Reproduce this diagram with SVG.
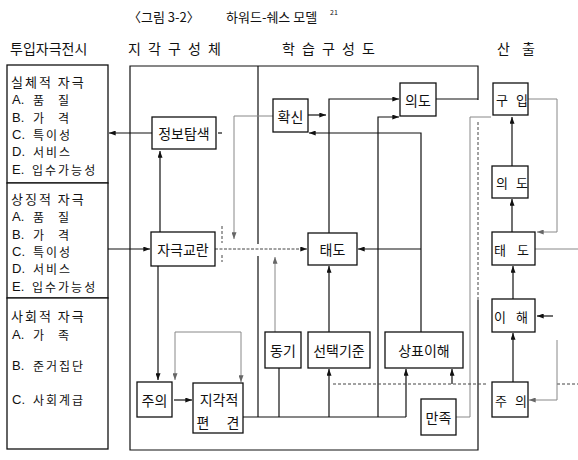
<svg xmlns="http://www.w3.org/2000/svg" width="578" height="460" viewBox="0 0 578 460">
<defs>
<marker id="ah" viewBox="0 0 8 6" refX="8" refY="3" markerWidth="7" markerHeight="5" orient="auto" markerUnits="userSpaceOnUse"><path d="M0,0 L8,3 L0,6 z" fill="#111"/></marker>
<marker id="ahg" viewBox="0 0 8 6" refX="8" refY="3" markerWidth="7" markerHeight="5" orient="auto" markerUnits="userSpaceOnUse"><path d="M0,0 L8,3 L0,6 z" fill="#666"/></marker>
</defs>
<style>
text{font-family:"Noto Sans CJK KR","Noto Sans",sans-serif;font-size:14px;fill:#111;dominant-baseline:central}
.t{font-size:13px}
.h{font-size:14px}
.it{font-size:12px;letter-spacing:2px}
.lat{font-family:"Liberation Sans",Arial,sans-serif;font-size:13px;letter-spacing:0}
.hd{font-size:13px;letter-spacing:2px}
.c{text-anchor:middle}
.s{font-size:13px;text-anchor:middle}
.box{fill:#fff;stroke:#111;stroke-width:1.3}
.ln{fill:none;stroke:#111;stroke-width:1.2}
.lna{fill:none;stroke:#111;stroke-width:1.2;marker-end:url(#ah)}
.gl{fill:none;stroke:#888;stroke-width:1}
.gla{fill:none;stroke:#888;stroke-width:1;marker-end:url(#ahg)}
.dl{fill:none;stroke:#444;stroke-width:1;stroke-dasharray:3 2}
.dla{fill:none;stroke:#444;stroke-width:1;stroke-dasharray:3 1.5;marker-end:url(#ah)}
</style>
<rect width="578" height="460" fill="#fff"/>
<g id="title">
<text class="t" x="128" y="16">〈그림 3-2〉</text>
<text class="t" x="226" y="16">하워드-쉐스 모델</text>
<text x="330" y="12" style="font-size:7px">21</text>
</g>
<g id="headers">
<text class="h" x="10" y="48">투입자극전시</text>
<text class="h" x="128 148 168 188 208" y="48">지각구성체</text>
<text class="h" x="282 302 322 342 362" y="48">학습구성도</text>
<text class="h" x="497 522" y="48">산출</text>
</g>
<g id="input-physical">
<rect class="box" x="7" y="65" width="101" height="118"/>
<text class="it"><tspan class="hd" x="11" y="81">실체적 자극</tspan><tspan class="lat" x="12" y="99.1">A.</tspan><tspan x="33" y="99.1">품</tspan><tspan x="58" y="99.1">질</tspan><tspan class="lat" x="12" y="116.5">B.</tspan><tspan x="33" y="116.5">가</tspan><tspan x="58" y="116.5">격</tspan><tspan class="lat" x="12" y="133.9">C.</tspan><tspan x="33" y="133.9">특이성</tspan><tspan class="lat" x="12" y="151.3">D.</tspan><tspan x="33" y="151.3">서비스</tspan><tspan class="lat" x="12" y="168.7">E.</tspan><tspan x="32" y="168.7">입수가능성</tspan></text>
</g>
<g id="input-symbolic">
<rect class="box" x="7" y="183" width="101" height="115"/>
<text class="it"><tspan class="hd" x="11" y="198">상징적 자극</tspan><tspan class="lat" x="12" y="216.1">A.</tspan><tspan x="33" y="216.1">품</tspan><tspan x="58" y="216.1">질</tspan><tspan class="lat" x="12" y="233.5">B.</tspan><tspan x="33" y="233.5">가</tspan><tspan x="58" y="233.5">격</tspan><tspan class="lat" x="12" y="250.9">C.</tspan><tspan x="33" y="250.9">특이성</tspan><tspan class="lat" x="12" y="268.3">D.</tspan><tspan x="33" y="268.3">서비스</tspan><tspan class="lat" x="12" y="285.7">E.</tspan><tspan x="32" y="285.7">입수가능성</tspan></text>
</g>
<g id="input-social">
<rect class="box" x="7" y="298" width="101" height="151"/>
<text class="it"><tspan class="hd" x="11" y="315">사회적 자극</tspan><tspan class="lat" x="12" y="333.5">A.</tspan><tspan x="33" y="333.5">가</tspan><tspan x="58" y="333.5">족</tspan><tspan class="lat" x="12" y="365">B.</tspan><tspan x="33" y="365">준거집단</tspan><tspan class="lat" x="12" y="399">C.</tspan><tspan x="33" y="399">사회계급</tspan></text>
</g>
<g id="frame">
<path class="ln" d="M478,100 V66 H130 V450 H478 V300"/>
<path class="dl" d="M478,122 V300"/>
<path class="ln" d="M258,66 V244 M258,256 V417"/>
</g>
<g id="connectors">
<path class="lna" d="M152,133 H109"/>
<path class="ln" d="M218,133 H222"/>
<path class="lna" d="M160,232 V151"/>
<path class="lna" d="M108,249 H150"/>
<path class="dla" d="M215,249 H307"/>
<path class="dl" d="M222,226 V243 M222,255 V262"/>
<path class="gla" d="M273,116 H234 V239"/>
<path class="lna" d="M158,266 V380"/>
<path class="gla" d="M208,332 H175 V380"/>
<path class="gla" d="M208,332 H241 V382"/>
<path class="lna" d="M174,400 H192"/>
<path class="ln" d="M243,417 H406"/>
<path class="ln" d="M279,417 V368"/>
<path class="lna" d="M329,417 V369"/>
<path class="lna" d="M378,417 V117 H399"/>
<path class="lna" d="M406,417 V369"/>
<path class="gla" d="M275,332 V257"/>
<path class="lna" d="M329,332 V266"/>
<path class="lna" d="M329,233 V99 H399"/>
<path class="lna" d="M308,115 H326"/>
<path class="lna" d="M421,332 V133 H309"/>
<path class="lna" d="M421,249 H358"/>
<path class="ln" d="M436,99 H478"/>
<path class="gl" d="M456,417 H470 V117 H491"/>
<path class="dl" d="M333,384 H486 M557,384 H578"/>
<path class="lna" d="M452,384 V369"/>
<path class="gla" d="M528,99 H557 V232 H537"/>
<path class="gl" d="M535,249 H578"/>
<path class="lna" d="M512,166 V117"/>
<path class="lna" d="M512,232 V199"/>
<path class="lna" d="M513,299 V266"/>
<path class="lna" d="M513,382 V333"/>
<path class="lna" d="M553,316 H537"/>
<path class="gla" d="M557,340 V400 H529"/>
</g>
<g id="n-info-search"><rect class="box" x="152" y="117" width="64" height="32"/><text class="c" x="184" y="133">정보탐색</text></g>
<g id="n-stim-ambiguity"><rect class="box" x="151" y="232" width="64" height="34"/><text class="c" x="183" y="249">자극교란</text></g>
<g id="n-attention"><rect class="box" x="137" y="382" width="35" height="35"/><text class="c" x="154.5" y="400">주의</text></g>
<g id="n-perceptual-bias"><rect class="box" x="193" y="383" width="50" height="50"/><text class="c"><tspan x="219" y="399">지각적</tspan><tspan x="203" y="422">편</tspan><tspan x="233" y="422">견</tspan></text></g>
<g id="n-confidence"><rect class="box" x="273" y="99" width="35" height="33"/><text class="c" x="290.5" y="116">확신</text></g>
<g id="n-intention"><rect class="box" x="400" y="83" width="36" height="33"/><text class="c" x="418" y="99.5">의도</text></g>
<g id="n-attitude"><rect class="box" x="308" y="233" width="49" height="32"/><text class="c" x="332.5" y="249">태도</text></g>
<g id="n-motive"><rect class="box" x="265" y="332" width="36" height="36"/><text class="c" x="283" y="350">동기</text></g>
<g id="n-criteria"><rect class="box" x="308" y="332" width="62" height="36"/><text class="c" x="339" y="350">선택기준</text></g>
<g id="n-brand-comp"><rect class="box" x="385" y="332" width="78" height="36"/><text class="c" x="424" y="350">상표이해</text></g>
<g id="n-satisfaction"><rect class="box" x="421" y="399" width="35" height="36"/><text class="c" x="438.5" y="417">만족</text></g>
<g id="o-purchase"><rect class="box" x="493" y="83" width="35" height="32"/><text class="s" x="502 522" y="99">구입</text></g>
<g id="o-intention"><rect class="box" x="492" y="166" width="36" height="32"/><text class="s" x="502 522" y="182">의도</text></g>
<g id="o-attitude"><rect class="box" x="492" y="232" width="43" height="33"/><text class="s" x="500 523" y="249">태도</text></g>
<g id="o-comprehension"><rect class="box" x="492" y="299" width="43" height="33"/><text class="s" x="500 522" y="316">이해</text></g>
<g id="o-attention"><rect class="box" x="492" y="382" width="36" height="35"/><text class="s" x="501 521" y="400">주의</text></g>
</svg>
